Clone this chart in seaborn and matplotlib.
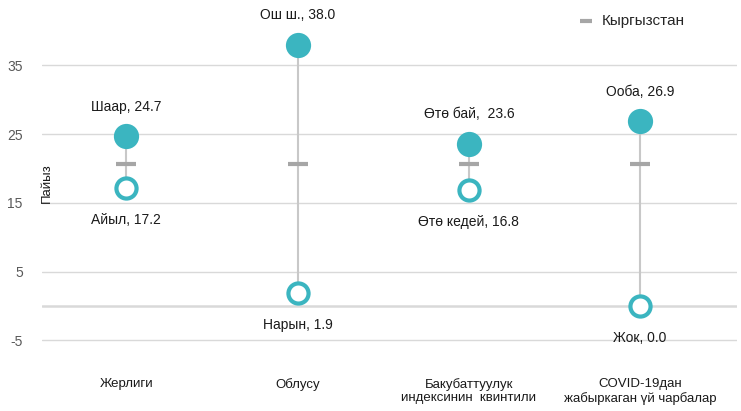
import numpy as np
import pandas as pd
import matplotlib
matplotlib.use("Agg")
import matplotlib.pyplot as plt
import seaborn as sns

# Data
categories = ["Жерлиги", "Облусу", "Бакубаттуулук\nиндексинин  квинтили",
              "COVID-19дан\nжабыркаган үй чарбалар"]
high_labels = ["Шаар", "Ош ш.", "Өтө бай, ", "Ооба"]
high_values = [24.7, 38.0, 23.6, 26.9]
low_labels = ["Айыл", "Нарын", "Өтө кедей", "Жок"]
low_values = [17.2, 1.9, 16.8, 0.0]
national_label = "Кыргызстан"
national_value = [20.6, 20.6, 20.6, 20.6]

teal = "#3BB5C0"
grey = "#A6A6A6"

df = pd.DataFrame({
    "cat": categories,
    "x": np.arange(len(categories)),
    "high": high_values,
    "low": low_values,
    "nat": national_value,
})

sns.set_style("white")
plt.rcParams["font.family"] = ["Liberation Sans", "DejaVu Sans"]
plt.rcParams["axes.unicode_minus"] = False

fig = plt.figure(figsize=(7.41, 4.11), dpi=100)
ax = fig.add_axes([0.057, 0.125, 0.938, 0.875])

# grid lines
for t in [-5, 5, 15, 25, 35]:
    ax.axhline(t, color="#D9D9D9", lw=1.0, zorder=0)
ax.axhline(0, color="#D9D9D9", lw=1.8, zorder=0)

# connecting lines
ax.vlines(df["x"], df["low"], df["high"], color="#C8C8C8", lw=1.5, zorder=1)

# national dash
sns.scatterplot(data=df, x="x", y="nat", marker="_", s=200, linewidth=3,
                color=grey, ax=ax, zorder=2, label=national_label)

# high points
sns.scatterplot(data=df, x="x", y="high", s=330, color=teal, edgecolor=teal,
                linewidth=0, ax=ax, zorder=3, legend=False)
# low points (rings)
sns.scatterplot(data=df, x="x", y="low", s=210, facecolor="white", edgecolor=teal,
                linewidth=3, ax=ax, zorder=3, legend=False)

for i, row in df.iterrows():
    hl = high_labels[i].rstrip(", ")
    sep = ",  " if high_labels[i].endswith(", ") else ", "
    ax.annotate(f"{hl}{sep}{row['high']:.1f}", (row["x"], row["high"]),
                xytext=(0, 16), textcoords="offset points", ha="center",
                va="bottom", fontsize=10, color="#1a1a1a")
    ax.annotate(f"{low_labels[i]}, {row['low']:.1f}", (row["x"], row["low"]),
                xytext=(0, -18), textcoords="offset points", ha="center",
                va="top", fontsize=10, color="#1a1a1a")

ax.set_xlim(-0.49, 3.567)
ax.set_ylim(-7.8, 44.5)
ax.set_yticks([-5, 5, 15, 25, 35])
ax.set_xticks(df["x"])
ax.set_xticklabels(categories, fontsize=9.5, color="#1a1a1a", linespacing=1.2)
ax.tick_params(axis="y", labelsize=10, labelcolor="#595959", length=0, pad=14)
ax.tick_params(axis="x", length=0, pad=13)
ax.set_xlabel("")
ax.set_ylabel("Пайыз", fontsize=9.5, color="#1a1a1a")
ax.yaxis.set_label_coords(0.015, 0.49)
sns.despine(ax=ax, left=True, bottom=True)

leg = ax.legend(loc="upper left", bbox_to_anchor=(0.75, 1.0), frameon=False,
                fontsize=11, handletextpad=0.4, handlelength=1.2, markerscale=0.6)

fig.savefig("out.png", dpi=100)
